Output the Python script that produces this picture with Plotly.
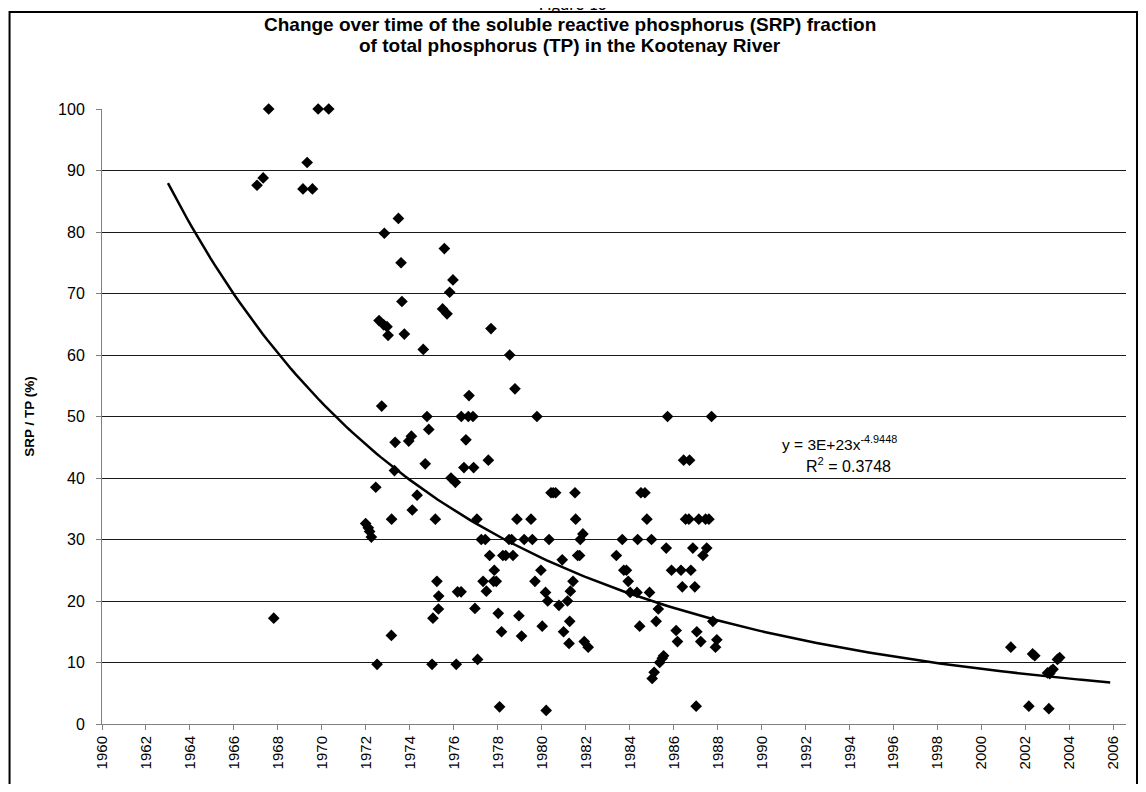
import numpy as np
import plotly.graph_objects as go

# SRP / TP (%) samples (decimal year, percent)
years = [
    1967.05, 1967.33, 1967.58, 1967.81, 1969.14, 1969.33, 1969.57, 1969.83, 1970.31,
    1971.99, 1972.11, 1972.17, 1972.25, 1972.45, 1972.51, 1972.60, 1972.72, 1972.81,
    1972.84, 1972.96, 1973.01, 1973.16, 1973.17, 1973.30, 1973.33, 1973.48, 1973.60,
    1973.64, 1973.75, 1973.95, 1974.07, 1974.11, 1974.33, 1974.61, 1974.70, 1974.78,
    1974.86, 1975.01, 1975.05, 1975.16, 1975.23, 1975.30, 1975.31, 1975.49, 1975.57,
    1975.69, 1975.81, 1975.87, 1975.96, 1976.07, 1976.11, 1976.17, 1976.33, 1976.34,
    1976.46, 1976.55, 1976.66, 1976.69,
    1976.87, 1976.90, 1976.96, 1977.05, 1977.08, 1977.25, 1977.33, 1977.43, 1977.48,
    1977.57, 1977.63, 1977.69, 1977.81, 1977.84, 1977.93, 1978.02, 1978.08, 1978.17,
    1978.23, 1978.36, 1978.51, 1978.54, 1978.63, 1978.69, 1978.78, 1978.87, 1978.96,
    1979.08, 1979.20, 1979.51, 1979.57, 1979.69, 1979.78, 1979.96, 1980.02, 1980.17,
    1980.20, 1980.27, 1980.33, 1980.42, 1980.52, 1980.63, 1980.78, 1980.93, 1980.99,
    1981.17, 1981.24, 1981.27, 1981.30, 1981.42, 1981.51, 1981.54, 1981.63, 1981.72,
    1981.75, 1981.87, 1981.93, 1982.11, 1983.39, 1983.66, 1983.73, 1983.85, 1983.93,
    1984.02, 1984.33, 1984.36, 1984.45, 1984.51, 1984.69, 1984.78, 1984.90, 1984.99,
    1985.02, 1985.11, 1985.20, 1985.30, 1985.36, 1985.48, 1985.54, 1985.66, 1985.72,
    1985.90, 1986.11, 1986.17, 1986.33, 1986.39, 1986.45, 1986.54, 1986.69, 1986.72,
    1986.78, 1986.87, 1986.96, 1987.02, 1987.05, 1987.14, 1987.23, 1987.33, 1987.45,
    1987.50, 1987.60, 1987.72, 1987.78, 1987.90, 1987.96,
    2001.33, 2002.15, 2002.32, 2002.42, 2003.00, 2003.06, 2003.10, 2003.15, 2003.25,
    2003.45, 2003.55,
]
srp_tp = [
    87.6, 88.8, 100.0, 17.2, 87.0, 91.3, 87.0, 100.0, 100.0,
    32.6, 31.9, 31.3, 30.4, 38.5, 9.7, 65.6, 51.7, 64.9,
    79.8, 64.6, 63.2, 14.4, 33.3, 41.2, 45.8, 82.2, 75.0,
    68.7, 63.4, 46.0, 46.8, 34.8, 37.2, 60.9, 42.3, 50.0,
    47.9, 9.7, 17.2, 33.3, 23.2, 18.7, 20.8, 67.5, 77.3,
    66.7, 70.2, 40.0, 72.2, 39.3, 9.7, 21.5, 21.5, 50.0,
    41.7, 46.2, 50.0, 53.4,
    50.0, 41.7, 18.8, 33.3, 10.5, 30.0, 23.2, 30.0, 21.6,
    42.9, 27.4, 64.3, 23.2, 25.0, 23.2, 18.0, 2.8, 15.0,
    27.4, 27.4, 30.0, 60.0, 30.0, 27.4, 54.5, 33.3, 17.6,
    14.3, 30.0, 33.3, 30.0, 23.2, 50.0, 25.0, 15.9, 21.4,
    2.2, 20.0, 30.0, 37.6, 37.6, 37.6, 19.3, 26.7, 15.0,
    20.0, 13.1, 16.7, 21.6, 23.2, 37.6, 33.3, 27.4, 27.4,
    30.0, 30.9, 13.4, 12.5, 27.4, 30.0, 25.0, 25.0, 23.2,
    21.4, 21.4, 30.0, 15.9, 37.6, 37.6, 33.3, 21.4, 30.0,
    7.4, 8.4, 16.7, 18.7, 10.0, 10.7, 11.1, 28.6, 50.0,
    25.0, 15.2, 13.4, 25.0, 22.3, 42.9, 33.3, 33.3, 42.9,
    25.0, 28.6, 22.3, 2.9, 15.0, 33.3, 13.4, 27.4, 33.3,
    28.6, 33.3, 50.0, 16.7, 12.5, 13.7,
    12.5, 2.9, 11.4, 11.1, 8.3, 2.5, 8.2, 8.6, 8.9,
    10.5, 10.8,
]

# power trendline shown on the chart: y = a * x^b, x = Excel date serial
TREND_COEF = 3.26e23
TREND_EXP = -4.9448
trend_start, trend_end = 1963.0, 2005.85

y_ticks = list(range(0, 101, 10))
x_ticks = list(range(1960, 2007, 2))

title_lines = [
    'Change over time of the soluble reactive phosphorus (SRP) fraction',
    'of total phosphorus (TP) in the Kootenay River',
]


def excel_serial(year):
    return (np.asarray(year) - 1900) * 365.25 + 1


trend_years = np.linspace(trend_start, trend_end, 200)
trend_vals = TREND_COEF * excel_serial(trend_years) ** TREND_EXP

FONT = 'Arial, Liberation Sans, sans-serif'

fig = go.Figure()

fig.add_trace(go.Scatter(
    x=trend_years, y=trend_vals, mode='lines',
    line=dict(color='black', width=2.5), hoverinfo='skip', showlegend=False
))
fig.add_trace(go.Scatter(
    x=years, y=srp_tp, mode='markers', cliponaxis=False,
    marker=dict(symbol='diamond', size=9, color='black', line=dict(width=0)),
    showlegend=False
))

# page body has an 8px margin, so figure coords = screen coords - 8;
# figure sized so that it fits the window with no scrolling
OFF = 8
W, H = 1130, 776
L, R, T, B = 101.5 - OFF, W - (1126 - OFF), 109 - OFF, H - (724 - OFF)
pw, ph = W - L - R, H - T - B


def px_x(p):
    # screen pixel -> paper x
    return (p - OFF - L) / pw


def px_y(p):
    # screen pixel -> paper y
    return 1 + (T - (p - OFF)) / ph


def text(s, x, y, size, anchor='center', bold=False, family=FONT):
    return dict(text=f'<b>{s}</b>' if bold else s, xref='paper', yref='paper',
                x=px_x(x), y=px_y(y), xanchor=anchor, yanchor='middle',
                showarrow=False, font=dict(family=family, size=size, color='black'))


fig.update_layout(
    width=W, height=H,
    margin=dict(l=L, r=R, t=T, b=B, autoexpand=False),
    paper_bgcolor='white', plot_bgcolor='white',
    font=dict(family=FONT, color='black', size=15),
    xaxis=dict(
        range=[1960, 1960 + pw / 22],
        tickmode='array', tickvals=x_ticks, ticktext=[str(t) for t in x_ticks],
        tickangle=-90, ticks='outside', ticklen=5, tickcolor='#808080',
        showline=True, linecolor='#808080', linewidth=1,
        showgrid=False, zeroline=False,
        tickfont=dict(family=FONT, size=15),
    ),
    yaxis=dict(
        range=[0, 100],
        tickmode='array', tickvals=y_ticks,
        ticks='outside', ticklen=5, tickcolor='#808080', ticklabelstandoff=8,
        showline=True, linecolor='#808080', linewidth=1,
        showgrid=True, gridcolor='#1a1a1a', gridwidth=1, zeroline=False,
        tickfont=dict(family=FONT, size=16),
        title=dict(text='<b>SRP / TP (%)</b>', font=dict(family=FONT, size=13.5), standoff=20),
    ),
    shapes=[
        dict(type='rect', xref='paper', yref='paper',
             x0=px_x(9), x1=px_x(1137), y0=px_y(800), y1=px_y(12),
             line=dict(color='black', width=2), fillcolor='rgba(0,0,0,0)', layer='below'),
    ],
    annotations=[
        text('Figure 13', 573, 4, 18, family='Calibri, Carlito, Open Sans'),
        text(title_lines[0], 570, 25, 19, bold=True),
        text(title_lines[1], 570, 45.5, 19, bold=True),
        text('y = 3E+23x<sup>-4.9448</sup>', 839, 443, 15.5),
        text('R<sup>2</sup> = 0.3748', 893, 465, 16, anchor='right'),
    ],
)

fig.write_html('out.html')
